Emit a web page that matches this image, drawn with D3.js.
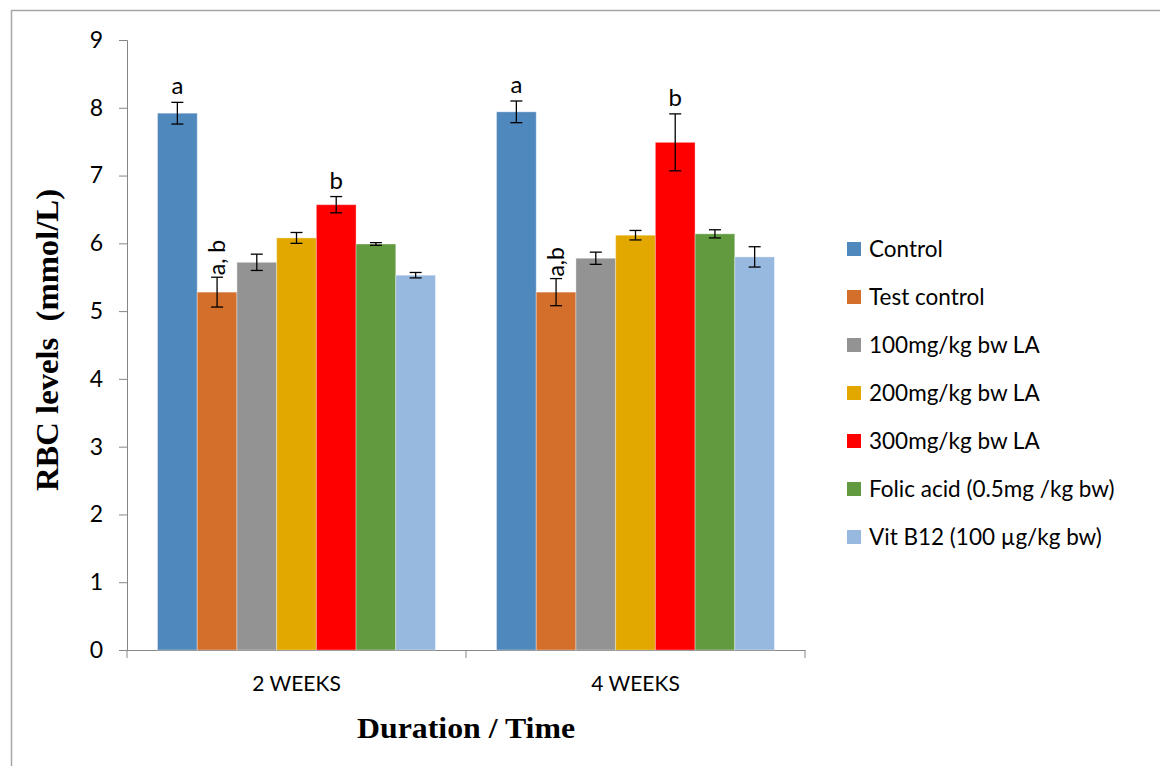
<!DOCTYPE html>
<html>
<head>
<meta charset="utf-8">
<script src="https://cdn.jsdelivr.net/npm/d3@7"></script>
<style>
  body { margin: 0; background: #fff; }
  svg { display: block; }
</style>
</head>
<body>
<div id="chart"></div>
<script>
var width = 1160
var height = 766

var groups = ['2 WEEKS', '4 WEEKS']
var series = ['Control', 'Test control', '100mg/kg bw LA', '200mg/kg bw LA',
  '300mg/kg bw LA', 'Folic acid (0.5mg /kg bw)', 'Vit B12 (100 \u00b5g/kg bw)']
var colors = ['#4f88bd', '#d36e2b', '#939393', '#e2a800', '#ff0000', '#629a3f', '#98b9df']

var values2w = [7.92, 5.28, 5.72, 6.08, 6.57, 5.99, 5.53]
var values4w = [7.94, 5.28, 5.78, 6.12, 7.49, 6.14, 5.80]
var err2w = [0.16, 0.22, 0.12, 0.08, 0.12, 0.02, 0.04]
var err4w = [0.16, 0.20, 0.09, 0.07, 0.42, 0.06, 0.15]
var labels2w = ['a', 'a, b', '', '', 'b', '', '']
var labels4w = ['a', 'a,b', '', '', 'b', '', '']
var yTicks = [0, 1, 2, 3, 4, 5, 6, 7, 8, 9]

var rows = [
  {group: groups[0], values: values2w, errs: err2w, labels: labels2w},
  {group: groups[1], values: values4w, errs: err4w, labels: labels4w}
]

var svg = d3.select('#chart').append('svg')
  .attr('width', width)
  .attr('height', height)

// outer frame
svg.append('path')
  .attr('d', 'M11.5,' + height + 'V10.5H' + width)
  .attr('fill', 'none')
  .attr('stroke', '#a6a6a6')
  .attr('stroke-width', 1.5)

var plotLeft = 127, plotRight = 805, plotTop = 40, plotBottom = 650

var y = d3.scaleLinear().domain([0, 9]).range([plotBottom, plotTop])
var x0 = d3.scaleBand().domain(groups).range([plotLeft, plotRight])
  .paddingInner(0.18).paddingOuter(0.09)
var x1 = d3.scaleBand().domain(series).range([0, x0.bandwidth()])

// y axis
var yAxis = svg.append('g')
  .attr('transform', 'translate(' + plotLeft + ',0)')
  .call(d3.axisLeft(y).tickValues(yTicks).tickSize(8).tickPadding(16))
yAxis.selectAll('path, line').attr('stroke', '#868686')
yAxis.selectAll('text')
  .attr('font-family', 'Lato, sans-serif')
  .attr('font-size', 23)
  .attr('fill', '#000')

// x axis
var xAxis = svg.append('g')
  .attr('transform', 'translate(0,' + plotBottom + ')')
  .call(d3.axisBottom(x0).tickSize(0).tickPadding(26).tickSizeOuter(0))
xAxis.select('path').attr('stroke', '#868686')
xAxis.selectAll('text')
  .attr('font-family', 'Lato, sans-serif')
  .attr('font-size', 21)
  .attr('fill', '#000')

var bounds = [plotLeft].concat(groups.map(function(g) { return x0(g) + x0.bandwidth() + x0.step() * x0.paddingInner() / 2 }))
bounds[bounds.length - 1] = plotRight
svg.append('g').selectAll('line').data(bounds).enter().append('line')
  .attr('x1', function(d) { return d }).attr('x2', function(d) { return d })
  .attr('y1', plotBottom).attr('y2', plotBottom + 8)
  .attr('stroke', '#868686')

// bars
var gGroups = svg.append('g').selectAll('g').data(rows).enter().append('g')
  .attr('transform', function(r) { return 'translate(' + x0(r.group) + ',0)' })

var items = gGroups.selectAll('g.item').data(function(r) {
  return series.map(function(s, i) {
    return {s: s, i: i, v: r.values[i], e: r.errs[i], label: r.labels[i]}
  })
}).enter().append('g').attr('class', 'item')

items.append('rect')
  .attr('x', function(d) { return x1(d.s) })
  .attr('y', function(d) { return y(d.v) })
  .attr('width', x1.bandwidth())
  .attr('height', function(d) { return plotBottom - y(d.v) })
  .attr('fill', function(d) { return colors[d.i] })
  .attr('stroke', 'rgba(255,255,255,0.35)')
  .attr('stroke-width', 1)

// error bars
var cx = function(d) { return x1(d.s) + x1.bandwidth() / 2 }
items.append('line')
  .attr('x1', cx).attr('x2', cx)
  .attr('y1', function(d) { return y(d.v + d.e) })
  .attr('y2', function(d) { return y(d.v - d.e) })
  .attr('stroke', '#000').attr('stroke-width', 1.3)
items.append('line')
  .attr('x1', function(d) { return cx(d) - 6 }).attr('x2', function(d) { return cx(d) + 6 })
  .attr('y1', function(d) { return y(d.v + d.e) }).attr('y2', function(d) { return y(d.v + d.e) })
  .attr('stroke', '#000').attr('stroke-width', 1.3)
items.append('line')
  .attr('x1', function(d) { return cx(d) - 6 }).attr('x2', function(d) { return cx(d) + 6 })
  .attr('y1', function(d) { return y(d.v - d.e) }).attr('y2', function(d) { return y(d.v - d.e) })
  .attr('stroke', '#000').attr('stroke-width', 1.3)

// significance letters
items.filter(function(d) { return d.label && d.label.indexOf(',') < 0 })
  .append('text')
  .attr('x', cx)
  .attr('y', function(d) { return y(d.v + d.e) - 8 })
  .attr('text-anchor', 'middle')
  .attr('font-family', 'Lato, sans-serif')
  .attr('font-size', 24)
  .text(function(d) { return d.label })

items.filter(function(d) { return d.label && d.label.indexOf(',') >= 0 })
  .append('text')
  .attr('transform', function(d) { return 'translate(' + cx(d) + ',' + (y(d.v + d.e) - 2) + ') rotate(-90)' })
  .attr('dy', '0.36em')
  .attr('text-anchor', 'start')
  .attr('font-family', 'Lato, sans-serif')
  .attr('font-size', 23)
  .text(function(d) { return d.label })

// axis titles
svg.append('text')
  .attr('transform', 'translate(58,340) rotate(-90)')
  .attr('text-anchor', 'middle')
  .attr('font-family', '"Liberation Serif", "Times New Roman", serif')
  .attr('font-weight', 'bold')
  .attr('font-size', 32)
  .attr('textLength', 302)
  .attr('lengthAdjust', 'spacingAndGlyphs')
  .attr('xml:space', 'preserve')
  .text('RBC levels  (mmol/L)')

svg.append('text')
  .attr('x', 466).attr('y', 738)
  .attr('text-anchor', 'middle')
  .attr('font-family', '"Liberation Serif", "Times New Roman", serif')
  .attr('font-weight', 'bold')
  .attr('font-size', 30)
  .attr('textLength', 218)
  .attr('lengthAdjust', 'spacingAndGlyphs')
  .text('Duration / Time')

// legend
var legend = svg.append('g').selectAll('g').data(series).enter().append('g')
  .attr('transform', function(d, i) { return 'translate(847,' + (249 + i * 48) + ')' })
legend.append('rect')
  .attr('x', 0).attr('y', -7).attr('width', 14).attr('height', 14)
  .attr('fill', function(d, i) { return colors[i] })
legend.append('text')
  .attr('x', 22).attr('dy', '0.36em')
  .attr('font-family', 'Lato, sans-serif')
  .attr('font-size', 22.5)
  .text(function(d) { return d })
</script>
</body>
</html>
